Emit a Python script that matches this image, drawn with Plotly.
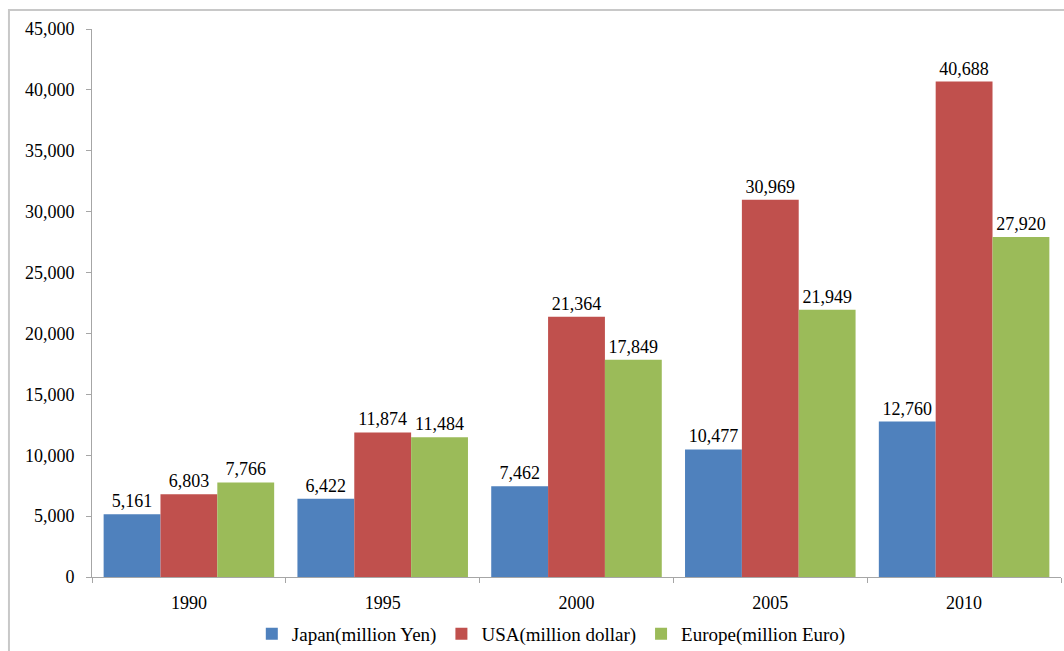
import plotly.graph_objects as go

years = ["1990", "1995", "2000", "2005", "2010"]
japan = [5161, 6422, 7462, 10477, 12760]
usa = [6803, 11874, 21364, 30969, 40688]
europe = [7766, 11484, 17849, 21949, 27920]
series_names = ["Japan(million Yen)", "USA(million dollar)", "Europe(million Euro)"]
colors = ["#4F81BD", "#C0504D", "#9BBB59"]

FONT = "'Liberation Serif', 'Times New Roman', 'DejaVu Serif', serif"
fig = go.Figure()
for name, vals, col in zip(series_names, [japan, usa, europe], colors):
    fig.add_trace(go.Bar(
        x=years, y=vals, name=name, marker_color=col, marker_line_width=0,
        text=[f"{v:,}" for v in vals], textposition="outside",
        textfont=dict(family=FONT, size=18, color="black"), cliponaxis=False,
    ))

fig.update_layout(
    width=1064, height=651,
    margin=dict(l=92, r=3, t=29, b=74, autoexpand=False),
    paper_bgcolor="white", plot_bgcolor="white",
    barmode="group", bargap=0.12, bargroupgap=0,
    font=dict(family=FONT, size=18, color="black"),
    showlegend=True,
    legend=dict(orientation="h", x=0.474, xanchor="center", y=-0.104, yanchor="middle",
                font=dict(family=FONT, size=19), itemwidth=30, traceorder="normal"),
    shapes=[dict(type="rect", xref="paper", yref="paper",
                 x0=-0.0857, x1=1.02, y0=-0.2, y1=1.0347,
                 line=dict(color="#c8c8c8", width=2), fillcolor="rgba(0,0,0,0)", layer="below")],
)
fig.update_yaxes(range=[0, 45000], dtick=5000, tickformat=",", showgrid=False,
                 showline=True, linecolor="#a6a6a6", linewidth=1,
                 ticks="outside", ticklen=5, tickcolor="#a6a6a6",
                 ticklabelstandoff=8, zeroline=False)
fig.update_xaxes(showgrid=False, showline=True, linecolor="#a6a6a6", linewidth=1,
                 ticks="outside", ticklen=5, tickcolor="#a6a6a6", tickson="boundaries",
                 ticklabelstandoff=9)

fig.write_html("out.html")
